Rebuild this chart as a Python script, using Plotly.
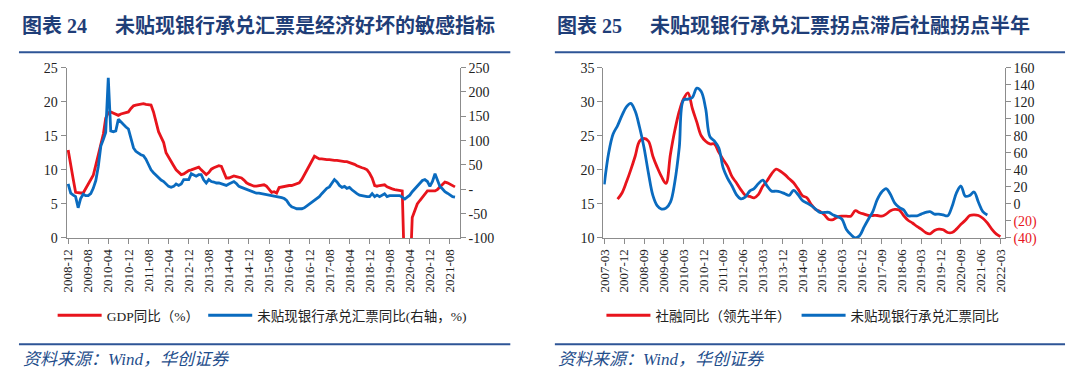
import plotly.graph_objects as go
import pandas as pd

# ---------------- Left chart data (monthly, 2008-12 .. 2021-10) ----------------
left_start = "2008-12-01"
gdp_yoy = [
    12.9, 11.0, 8.6, 6.7, 6.6, 6.6, 6.6, 7.2, 8.0, 8.6,
    9.2, 10.7, 12.3, 14.0, 15.3, 17.6, 18.4, 18.5, 18.3, 18.1,
    18.0, 18.2, 18.3, 18.4, 18.5, 19.0, 19.4, 19.5, 19.6, 19.7,
    19.7, 19.6, 19.5, 19.5, 18.5, 17.0, 15.6, 14.8, 14.0, 12.5,
    11.8, 11.3, 10.6, 10.0, 9.7, 9.3, 9.4, 9.7, 9.9, 10.0,
    10.1, 10.2, 10.4, 10.0, 9.6, 9.3, 9.6, 10.1, 10.3, 10.5,
    10.6, 10.5, 9.6, 8.8, 8.8, 9.0, 9.1, 9.0, 8.9, 8.8,
    8.5, 8.1, 7.9, 7.7, 7.6, 7.6, 7.7, 7.7, 7.8, 7.6,
    7.2, 6.7, 6.8, 6.6, 7.4, 7.5, 7.6, 7.6, 7.7, 7.7,
    7.8, 8.0, 8.1, 8.6, 9.3, 10.0, 10.7, 11.4, 12.0, 11.8,
    11.6, 11.6, 11.5, 11.5, 11.5, 11.4, 11.4, 11.4, 11.3, 11.3,
    11.2, 11.2, 11.1, 11.0, 10.8, 10.6, 10.4, 10.3, 10.2, 10.0,
    9.5, 8.8, 7.7, 7.6, 7.7, 7.8, 7.8, 7.5, 7.3, 7.2,
    7.1, 7.0, 6.9, 6.9, -6.8, -6.8, -6.8, 3.0, 4.2, 5.0,
    5.5, 6.0, 6.4, 6.9, 6.9, 6.9, 6.9, 7.1, 7.5, 7.9,
    8.2, 8.1, 7.9, 7.7, 7.5,
]
bill_yoy_left = [
    11, -8, -12, -15, -38, -19, -10, -13, -13, -9,
    2, 18, 47, 89, 103, 117, 229, 120, 118, 120,
    144, 138, 132, 128, 124, 103, 85, 78, 74, 71,
    69, 62, 51, 40, 34, 29, 23, 19, 16, 11,
    6, 4, 6, 11, 8, 11, 20, 20, 20, 32,
    29, 27, 30, 30, 19, 13, 20, 16, 15, 13,
    13, 11, 9, 8, 11, 13, 16, 12, 6, 4,
    2, 1, -2, -3, -5, -8, -8, -9, -9, -10,
    -12, -13, -13, -15, -16, -17, -19, -23, -31, -36,
    -38, -40, -40, -40, -38, -34, -30, -26, -22, -19,
    -15, -9, -3, 2, 5, 12, 20, 15, 8, 4,
    6, 2, 4, -1, -6, -9, -12, -13, -15, -15,
    -15, -9, -15, -12, -15, -12, -9, -15, -13, -13,
    -13, -13, -13, -16, -20, -16, -12, -5, 1, 8,
    13, 18, 20, 16, 6, 16, 32, 18, 6, 1,
    -5, -8, -12, -15, -16,
]
left_tick_start, left_tick_end = "2008-12-01", "2021-08-01"
left_y2_vals = [-100, -50, 0, 50, 100, 150, 200, 250]
left_y2_text = ["-100", "-50", "-", "50", "100", "150", "200", "250"]

# ---------------- Right chart data (every 2 months) ----------------
bill_start = "2007-03-01"
bill_yoy_right = [
    23, 60, 82, 92, 104, 114, 118, 109, 90, 66,
    36, 10, -2, -6, -5, 2, 26, 66, 122, 123,
    125, 136, 132, 112, 79, 74, 66, 42, 30, 21,
    11, 6, 8, 15, 18, 24, 28, 21, 15, 15,
    14, 12, 10, 16, 11, 4, 1, -2, -6, -10,
    -10, -10, -13, -15, -18, -30, -36, -40, -37, -27,
    -18, -9, 5, 14, 18, 11, 1, -4, -7, -14,
    -14, -14, -12, -10, -9, -12, -12, -13, -14, -3,
    13, 21, 9, 10, 14, 2, -9, -13,
]
tsf_start = "2007-09-01"
tsf_yoy_lead = [
    15.7, 16.6, 18.2, 20.0, 22.0, 24.2, 24.6, 24.2, 22.0, 20.4,
    19.0, 18.0, 22.3, 25.8, 28.6, 30.4, 31.3, 29.0, 27.0, 25.0,
    24.2, 23.8, 23.8, 22.6, 21.5, 20.5, 19.0, 18.1, 17.1, 16.3,
    16.1, 15.9, 16.4, 17.6, 18.4, 19.4, 20.1, 19.8, 19.3, 18.7,
    18.1, 17.2, 16.2, 15.9, 14.9, 14.2, 13.9, 13.4, 12.7, 12.7,
    13.1, 13.2, 13.2, 13.2, 14.0, 13.7, 13.5, 13.3, 13.3, 13.3,
    13.2, 13.5, 14.0, 14.2, 14.1, 13.3, 12.6, 12.2, 11.7, 11.3,
    10.8, 10.6, 11.1, 11.3, 11.2, 10.8, 10.8, 11.3, 12.0, 12.6,
    13.3, 13.4, 13.3, 12.9, 12.2, 11.3, 10.6, 10.2,
]
right_tick_start, right_tick_end = "2007-03-01", "2022-03-01"
right_y2_vals = [-40, -20, 0, 20, 40, 60, 80, 100, 120, 140, 160]
right_y2_text = ['<span style="color:#E8141C">(40)</span>',
                 '<span style="color:#E8141C">(20)</span>',
                 "0", "20", "40", "60", "80", "100", "120", "140", "160"]

# ---------------- styling ----------------
RED = "#E8141C"
BLUE = "#0A6BBF"
NAVY = "#1F3E78"
RULE = "#2E5596"
AX = "#8C8C8C"
SERIF = "Liberation Serif, Times New Roman, Noto Sans CJK SC, serif"
CJK = "Liberation Serif, Noto Sans CJK SC, sans-serif"
OFF = 8                      # page body margin
W, H = 1080 - 2 * OFF, 388 - 2 * OFF

def px(x):
    return (x - OFF) / W

def py(y):
    return 1 - (y - OFF) / H

left_dates = pd.date_range(left_start, periods=len(gdp_yoy), freq="MS")
bill_dates = pd.date_range(bill_start, periods=len(bill_yoy_right), freq="2MS")
tsf_dates = pd.date_range(tsf_start, periods=len(tsf_yoy_lead), freq="2MS")

fig = go.Figure()
fig.add_trace(go.Scatter(x=left_dates, y=gdp_yoy, name="GDP同比（%）", mode="lines",
                         line=dict(color=RED, width=2.8), xaxis="x", yaxis="y", legend="legend"))
fig.add_trace(go.Scatter(x=left_dates, y=bill_yoy_left, name="未贴现银行承兑汇票同比(右轴，%)",
                         mode="lines", line=dict(color=BLUE, width=2.8), xaxis="x", yaxis="y2",
                         legend="legend3"))
fig.add_trace(go.Scatter(x=tsf_dates, y=tsf_yoy_lead, name="社融同比（领先半年）", mode="lines",
                         line=dict(color=RED, width=2.8, shape="spline", smoothing=1.0),
                         xaxis="x2", yaxis="y3", legend="legend2"))
fig.add_trace(go.Scatter(x=bill_dates, y=bill_yoy_right, name="未贴现银行承兑汇票同比", mode="lines",
                         line=dict(color=BLUE, width=2.8, shape="spline", smoothing=1.0),
                         xaxis="x2", yaxis="y4", legend="legend4"))

ydom = [py(241), py(63)]
common_x = dict(type="date", tickformat="%Y-%m", tickangle=-90, ticks="outside", ticklen=5,
                tickcolor=AX, showline=True, linecolor=AX, linewidth=1, showgrid=False,
                zeroline=False, tickfont=dict(family=SERIF, size=13, color="#222"))
common_y = dict(ticks="outside", ticklen=5, tickcolor=AX, showline=True, linecolor=AX,
                linewidth=1, showgrid=False, zeroline=False,
                tickfont=dict(family=SERIF, size=14, color="#222"))


def leg(x_line_start):
    return dict(orientation="h", x=px(x_line_start - 10), xanchor="left", y=py(322),
                yanchor="middle", font=dict(family=CJK, size=13.5, color="#222"),
                bgcolor="rgba(0,0,0,0)", itemwidth=44, tracegroupgap=0)


fig.update_layout(
    width=W, height=H, margin=dict(l=0, r=0, t=0, b=0),
    paper_bgcolor="white", plot_bgcolor="white",
    xaxis=dict(domain=[px(60), px(457)], anchor="y",
               range=["2008-11-11", "2021-11-28"],
               tickvals=pd.date_range(left_tick_start, left_tick_end, freq="8MS"), **common_x),
    yaxis=dict(domain=ydom, anchor="x", range=[0, 25], tickvals=[0, 5, 10, 15, 20, 25], **common_y),
    yaxis2=dict(overlaying="y", anchor="x", side="right", range=[-100, 250],
                tickvals=left_y2_vals, ticktext=left_y2_text, **common_y),
    xaxis2=dict(domain=[px(602), px(1007)], anchor="y3",
                range=["2007-02-17", "2022-04-28"],
                tickvals=pd.date_range(right_tick_start, right_tick_end, freq="9MS"), **common_x),
    yaxis3=dict(domain=ydom, anchor="x2", range=[10, 35], tickvals=[10, 15, 20, 25, 30, 35], **common_y),
    yaxis4=dict(overlaying="y3", anchor="x2", side="right", range=[-40, 160],
                tickvals=right_y2_vals, ticktext=right_y2_text, **common_y),
    legend=leg(56),
    legend3=leg(208),
    legend2=leg(610),
    legend4=leg(807),
    showlegend=True,
)

annotations = []
title_font = dict(family=CJK, size=20, color=NAVY)
for x0, num, text in [(13, "图表 24", "未贴现银行承兑汇票是经济好坏的敏感指标"),
                      (553, "图表 25", "未贴现银行承兑汇票拐点滞后社融拐点半年")]:
    annotations.append(dict(x=px(x0), y=py(19), xref="paper", yref="paper", xanchor="left",
                            yanchor="middle", showarrow=False, text="<b>" + num + "</b>",
                            font=title_font))
    annotations.append(dict(x=px(x0 + 94), y=py(19), xref="paper", yref="paper", xanchor="left",
                            yanchor="middle", showarrow=False, text="<b>" + text + "</b>",
                            font=title_font))
    annotations.append(dict(x=px(x0 + 1), y=py(368), xref="paper", yref="paper", xanchor="left",
                            yanchor="middle", showarrow=False,
                            text="<i>资料来源：Wind，华创证券</i>",
                            font=dict(family=CJK, size=17, color="#1F4E8C")))
fig.update_layout(annotations=annotations)

shapes = []
for xa, xb in [(12, 508), (553, 1068)]:
    for yy in (47, 352):
        shapes.append(dict(type="line", xref="paper", yref="paper", x0=px(xa), x1=px(xb),
                           y0=py(yy), y1=py(yy), line=dict(color=RULE, width=2)))
fig.update_layout(shapes=shapes)

fig.write_html("out.html")
